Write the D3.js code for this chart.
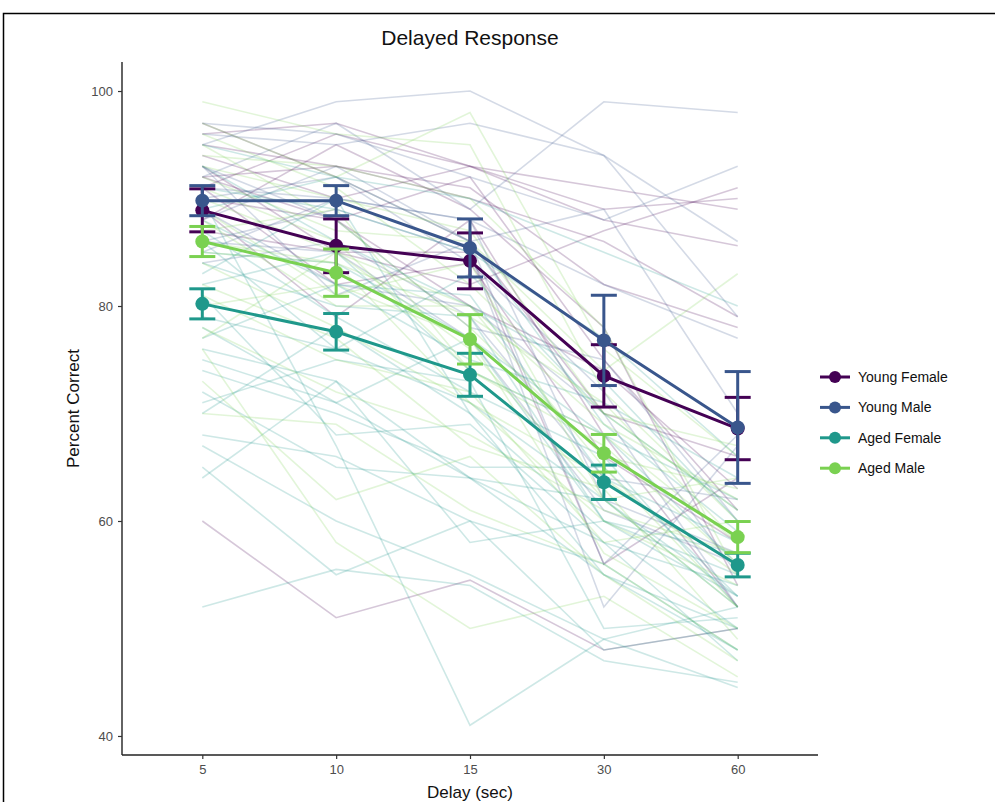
<!DOCTYPE html>
<html lang="en">

<head>
    <meta charset="UTF-8">
    <title>Delayed Response</title>
    <script src="https://d3js.org/d3.v7.min.js"></script>
    <style type="text/css">
        body {
            margin: 0;
            background: #fff;
            font-family: "Liberation Sans", Arial, Helvetica, sans-serif;
        }
    </style>
</head>

<body>
    <div id="dataviz"></div>
</body>
<script>
    // categories
    var delays = ["5", "10", "15", "30", "60"];
    var groups = ["Young Female", "Young Male", "Aged Female", "Aged Male"];
    var colors = ["#440154", "#39568C", "#1F988B", "#7AD151"];
    var yTicks = [40, 60, 80, 100];

    // group means and standard errors, one value per delay
    var meanYF = [88.9, 85.6, 84.2, 73.5, 68.6];
    var meanYM = [89.8, 89.8, 85.4, 76.8, 68.7];
    var meanAF = [80.2, 77.6, 73.6, 63.6, 55.9];
    var meanAM = [86.0, 83.1, 76.9, 66.3, 58.5];
    var seYF = [2.0, 2.5, 2.6, 2.9, 2.9];
    var seYM = [1.4, 1.4, 2.7, 4.2, 5.2];
    var seAF = [1.4, 1.7, 2.0, 1.6, 1.1];
    var seAM = [1.4, 2.2, 2.3, 1.75, 1.45];

    // individual subjects
    var subjYF = [
        [96, 97, 93, 91, 89], [92, 93, 90, 86, 79], [60, 51, 54.5, 48, 50],
        [94, 90, 93, 89, 90], [90, 88, 92, 75, 61], [88, 95, 89, 78, 54],
        [97, 92, 86, 70, 66], [91, 82, 84, 66, 58], [95, 93, 91, 82, 78],
        [93, 85, 85, 56, 64], [89, 79, 88, 68, 52], [92, 88, 80, 74, 63],
        [91, 96, 93, 88, 85.6], [87, 85, 82, 87, 91]
    ];
    var subjYM = [
        [95, 99, 100, 94, 86], [92, 97, 89, 99, 98], [97, 96, 92, 88, 93],
        [88, 93, 86, 89, 70], [85, 90, 88, 62, 57], [93, 88, 78, 75, 60],
        [90, 92, 84, 72, 55], [84, 86, 79, 64, 62], [89, 82, 80, 70, 52],
        [86, 85, 77, 61, 56], [93, 81, 86, 56, 68], [86, 89, 85, 52, 67],
        [96, 95, 97, 94, 79], [91, 90, 88, 82, 77]
    ];
    var subjAF = [
        [52, 55.5, 54, 47, 45], [90, 67, 41, 49, 44.5], [87, 79, 72, 66, 52],
        [75, 71, 64, 55, 50], [85, 84, 77, 60, 55], [68, 66, 60, 56, 48],
        [79, 76, 71, 62, 53], [71, 75, 73, 50, 51], [93, 86, 80, 73, 60],
        [82, 85, 74, 68, 56], [64, 73, 64, 58, 54], [88, 82, 81, 64, 58],
        [78, 71, 77, 68, 62], [84, 80, 79, 60, 57], [74, 70, 65, 65, 53],
        [91, 89, 85, 77, 66], [70, 78, 70, 59, 50], [86, 76, 83, 70, 61],
        [81, 68, 69, 58, 47], [77, 82, 75, 71, 64], [95, 92, 90, 85, 80],
        [65, 55, 60, 48, 50], [72, 65, 64, 62, 52], [83, 90, 70, 55, 48],
        [67, 60, 55, 49, 52], [89, 92, 86, 69, 59], [76, 73, 58, 60, 53]
    ];
    var subjAM = [
        [99, 96, 95, 72, 60], [97, 92, 98, 76, 66], [93, 90, 87, 70, 61],
        [90, 85, 80, 65, 52], [87, 89, 74, 68, 58], [84, 78, 71, 64, 55],
        [80, 82, 77, 57, 50], [76, 58, 50, 53, 45.5], [88, 80, 80, 69, 62],
        [92, 87, 86, 74, 83], [85, 84, 71, 60, 54], [78, 72, 68, 61, 57],
        [95, 88, 78, 66, 63], [82, 77, 67, 63, 49], [73, 62, 66, 55, 47],
        [86, 84, 79, 71, 58], [89, 81, 84, 62, 64], [91, 86, 74, 67, 56],
        [94, 93, 90, 78, 55], [81, 75, 72, 58, 60], [77, 85, 76, 62, 52],
        [96, 91, 82, 70, 67], [70, 69, 61, 56, 48]
    ];

    var means = [meanYF, meanYM, meanAF, meanAM];
    var ses = [seYF, seYM, seAF, seAM];
    var subjects = [subjYF, subjYM, subjAF, subjAM];

    var W = 995, H = 802;
    var plot = { left: 122, right: 818, top: 62, bottom: 755 };

    var svg = d3.select("#dataviz").append("svg")
        .attr("width", W)
        .attr("height", H)
        .style("display", "block");

    // outer frame
    svg.append("rect")
        .attr("x", 3.5).attr("y", 13.5)
        .attr("width", 1100).attr("height", 1100)
        .attr("fill", "none")
        .attr("stroke", "#000")
        .attr("stroke-width", 1.5);

    var x = d3.scalePoint()
        .domain(delays)
        .range([plot.left, plot.right])
        .padding(0.6);

    var y = d3.scaleLinear()
        .domain([38.23, 102.7])
        .range([plot.bottom, plot.top]);

    // faint individual lines
    var line = d3.line()
        .x(function (d, i) { return x(delays[i]) })
        .y(function (d) { return y(d) });

    var indiv = svg.append("g");
    subjects.forEach(function (set, g) {
        indiv.selectAll(null)
            .data(set)
            .enter()
            .append("path")
            .attr("d", line)
            .attr("fill", "none")
            .attr("stroke", colors[g])
            .attr("stroke-width", 1.6)
            .attr("stroke-opacity", 0.22);
    });

    // group means: lines, error bars, points
    var capW = 13;
    var meanG = svg.append("g");
    means.forEach(function (m, g) {
        var gg = meanG.append("g");
        gg.append("path")
            .datum(m)
            .attr("d", line)
            .attr("fill", "none")
            .attr("stroke", colors[g])
            .attr("stroke-width", 3);

        var bars = gg.selectAll(null)
            .data(m)
            .enter()
            .append("g");
        bars.append("line")
            .attr("x1", function (d, i) { return x(delays[i]) })
            .attr("x2", function (d, i) { return x(delays[i]) })
            .attr("y1", function (d, i) { return y(d - ses[g][i]) })
            .attr("y2", function (d, i) { return y(d + ses[g][i]) });
        bars.append("line")
            .attr("x1", function (d, i) { return x(delays[i]) - capW })
            .attr("x2", function (d, i) { return x(delays[i]) + capW })
            .attr("y1", function (d, i) { return y(d - ses[g][i]) })
            .attr("y2", function (d, i) { return y(d - ses[g][i]) });
        bars.append("line")
            .attr("x1", function (d, i) { return x(delays[i]) - capW })
            .attr("x2", function (d, i) { return x(delays[i]) + capW })
            .attr("y1", function (d, i) { return y(d + ses[g][i]) })
            .attr("y2", function (d, i) { return y(d + ses[g][i]) });
        bars.selectAll("line")
            .attr("stroke", colors[g])
            .attr("stroke-width", 3);

        gg.selectAll("circle")
            .data(m)
            .enter()
            .append("circle")
            .attr("cx", function (d, i) { return x(delays[i]) })
            .attr("cy", function (d) { return y(d) })
            .attr("r", 7)
            .attr("fill", colors[g]);
    });

    // axes
    var xAxis = svg.append("g")
        .attr("transform", "translate(0," + plot.bottom + ")")
        .call(d3.axisBottom(x).tickSize(4).tickPadding(6).tickSizeOuter(0));
    xAxis.select(".domain")
        .attr("d", "M" + plot.left + ",0H" + plot.right);

    var yAxis = svg.append("g")
        .attr("transform", "translate(" + plot.left + ",0)")
        .call(d3.axisLeft(y).tickValues(yTicks).tickSize(4).tickPadding(5).tickSizeOuter(0));
    yAxis.select(".domain")
        .attr("d", "M0," + plot.top + "V" + plot.bottom);

    svg.selectAll(".domain")
        .attr("stroke", "#222")
        .attr("stroke-width", 1.4);
    svg.selectAll(".tick line")
        .attr("stroke", "#333")
        .attr("stroke-width", 1.2);
    svg.selectAll(".tick text")
        .attr("fill", "#4d4d4d")
        .style("font-size", "13px")
        .style("font-family", "'Liberation Sans', Arial, sans-serif");

    // titles
    svg.append("text")
        .attr("x", (plot.left + plot.right) / 2)
        .attr("y", 45)
        .attr("text-anchor", "middle")
        .style("font-size", "21px")
        .attr("fill", "#111")
        .text("Delayed Response");

    svg.append("text")
        .attr("x", (plot.left + plot.right) / 2)
        .attr("y", 798)
        .attr("text-anchor", "middle")
        .style("font-size", "17px")
        .attr("fill", "#111")
        .text("Delay (sec)");

    svg.append("text")
        .attr("transform", "translate(79," + (plot.top + plot.bottom) / 2 + ") rotate(-90)")
        .attr("text-anchor", "middle")
        .style("font-size", "17px")
        .attr("fill", "#111")
        .text("Percent Correct");

    // legend
    var legend = svg.append("g")
        .attr("transform", "translate(820,377)");
    var items = legend.selectAll("g")
        .data(groups)
        .enter()
        .append("g")
        .attr("transform", function (d, i) { return "translate(0," + (i * 30.4) + ")" });
    items.append("line")
        .attr("x1", 0).attr("x2", 30)
        .attr("stroke", function (d, i) { return colors[i] })
        .attr("stroke-width", 3);
    items.append("circle")
        .attr("cx", 15)
        .attr("r", 6)
        .attr("fill", function (d, i) { return colors[i] });
    items.append("text")
        .attr("x", 38)
        .attr("dy", "0.35em")
        .style("font-size", "14px")
        .attr("fill", "#111")
        .text(function (d) { return d });
</script>

</html>
